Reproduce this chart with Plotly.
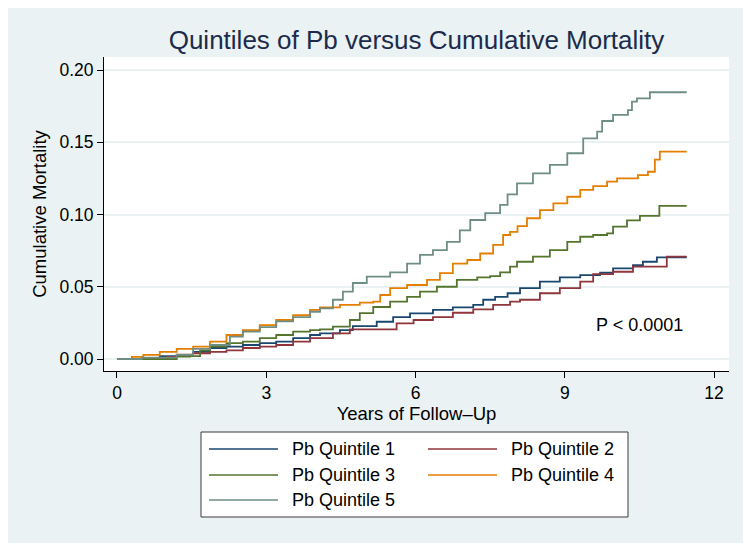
import plotly.graph_objects as go

# Kaplan-Meier style cumulative mortality by Pb quintile
t_q1 = [0, 0.86, 1.53, 1.87, 2.2, 2.53, 2.87, 3.2, 3.54, 3.88, 4.08, 4.48, 4.74, 5.22, 5.55, 5.89,
        6.35, 6.75, 7.16, 7.36, 7.6, 7.85, 8.1, 8.5, 8.9, 9.31, 9.71, 9.97, 10.37, 10.57, 10.85, 11.45]
m_q1 = [0, 0.002, 0.005, 0.0076, 0.0085, 0.0097, 0.011, 0.012, 0.0145, 0.0166, 0.0178, 0.020, 0.0228,
        0.0258, 0.029, 0.0316, 0.034, 0.0358, 0.0374, 0.041, 0.043, 0.0455, 0.049, 0.0535, 0.0565, 0.058,
        0.0597, 0.0627, 0.065, 0.0673, 0.0703, 0.0703]

t_q2 = [0, 1.0, 1.2, 1.53, 1.87, 2.2, 2.53, 2.87, 3.2, 3.54, 3.88, 4.34, 4.68, 5.62, 5.96, 6.35, 6.75,
        7.16, 7.56, 7.9, 8.1, 8.5, 8.9, 9.31, 9.57, 9.97, 10.37, 11.05, 11.45]
m_q2 = [0, 0.0015, 0.003, 0.004, 0.005, 0.006, 0.0076, 0.0085, 0.0097, 0.012, 0.0145, 0.0178, 0.0205,
        0.0247, 0.027, 0.029, 0.032, 0.0344, 0.0374, 0.0397, 0.041, 0.0455, 0.049, 0.0535, 0.0588, 0.0604,
        0.0639, 0.0708, 0.0708]

t_q3 = [0, 1.2, 1.47, 1.67, 1.87, 2.2, 2.53, 2.87, 3.2, 3.54, 3.88, 4.08, 4.34, 4.68, 4.88, 5.15, 5.49,
        5.83, 6.09, 6.43, 6.83, 7.24, 7.5, 7.7, 7.9, 8.04, 8.36, 8.7, 9.05, 9.31, 9.57, 9.85, 9.97, 10.25,
        10.51, 10.9, 11.45]
m_q3 = [0, 0.0016, 0.002, 0.006, 0.0085, 0.011, 0.012, 0.0145, 0.0166, 0.019, 0.020, 0.0205, 0.0224,
        0.027, 0.0318, 0.036, 0.0397, 0.043, 0.0466, 0.050, 0.0547, 0.0565, 0.0574, 0.060, 0.064, 0.0673,
        0.0708, 0.0754, 0.081, 0.0846, 0.0858, 0.087, 0.0916, 0.096, 0.099, 0.106, 0.106]

t_q4 = [0, 0.3, 0.53, 0.86, 1.2, 1.53, 1.87, 2.2, 2.53, 2.87, 3.2, 3.54, 3.88, 4.08, 4.48, 4.88, 5.15,
        5.29, 5.49, 5.83, 6.23, 6.49, 6.75, 7.04, 7.3, 7.56, 7.76, 7.9, 8.05, 8.24, 8.5, 8.77, 9.05, 9.31,
        9.57, 9.85, 10.05, 10.47, 10.67, 10.81, 10.91, 11.45]
m_q4 = [0, 0.0015, 0.0028, 0.005, 0.007, 0.0085, 0.012, 0.0166, 0.020, 0.0235, 0.027, 0.0304, 0.034,
        0.0358, 0.0374, 0.039, 0.0397, 0.0443, 0.049, 0.0512, 0.0547, 0.0595, 0.066, 0.0685, 0.073, 0.079,
        0.0858, 0.088, 0.092, 0.0974, 0.103, 0.1077, 0.1123, 0.117, 0.1197, 0.1227, 0.125, 0.1273, 0.1296,
        0.138, 0.1435, 0.1435]

t_q5 = [0, 0.5, 1.2, 1.53, 1.87, 2.27, 2.53, 2.87, 3.2, 3.54, 3.88, 4.08, 4.34, 4.54, 4.74, 5.02, 5.49,
        5.83, 6.09, 6.35, 6.63, 6.89, 7.1, 7.4, 7.7, 7.85, 8.04, 8.36, 8.7, 9.05, 9.37, 9.65, 9.75, 9.97,
        10.27, 10.35, 10.45, 10.71, 11.45]
m_q5 = [0, 0.001, 0.0028, 0.007, 0.0097, 0.0155, 0.019, 0.022, 0.026, 0.029, 0.0327, 0.035, 0.041,
        0.0466, 0.0526, 0.057, 0.060, 0.066, 0.072, 0.0754, 0.081, 0.089, 0.0962, 0.101, 0.1066, 0.114,
        0.1216, 0.1285, 0.1343, 0.1424, 0.1527, 0.1573, 0.1647, 0.1689, 0.1723, 0.1781, 0.1804, 0.1846,
        0.1846]

names = ["Pb Quintile 1", "Pb Quintile 2", "Pb Quintile 3", "Pb Quintile 4", "Pb Quintile 5"]
colors = ["#1A476F", "#90353B", "#55752F", "#E37E00", "#6E8E84"]
x_ticks = [0, 3, 6, 9, 12]
y_ticks = [0, 0.05, 0.10, 0.15, 0.20]

series = [(t_q1, m_q1), (t_q2, m_q2), (t_q3, m_q3), (t_q4, m_q4), (t_q5, m_q5)]

FONT = "Liberation Sans, Arial, sans-serif"
W, H = 751, 550
OFF = 8  # the page body adds an 8px margin, so work in page pixels and shift back
# plot area in page pixels
P_L, P_R, P_T, P_B = 104, 729, 57, 371
L, T = P_L - OFF, P_T - OFF
R, B = W - (P_R - OFF), H - (P_B - OFF)
PW, PH = P_R - P_L, P_B - P_T


def px(x):
    return (x - P_L) / PW


def py(y):
    return (P_B - y) / PH


fig = go.Figure()
for (t, m), name, c in zip(series, names, colors):
    fig.add_trace(go.Scatter(x=t, y=m, mode="lines", name=name, line=dict(color=c, width=1.8, shape="hv"),
                             showlegend=False))

shapes = [
    # light outer region and white plot region
    dict(type="rect", xref="paper", yref="paper", x0=px(7), x1=px(745), y0=py(543), y1=py(7),
         fillcolor="#EAF2F3", line=dict(width=0), layer="below"),
    dict(type="rect", xref="paper", yref="paper", x0=0, x1=1, y0=0, y1=1,
         fillcolor="white", line=dict(width=0), layer="below"),
    # legend box
    dict(type="rect", xref="paper", yref="paper", x0=px(201), x1=px(628), y0=py(517), y1=py(432),
         fillcolor="white", line=dict(color="#3A3A3A", width=1)),
]
annotations = [
    dict(x=10.5, y=0.0235, xref="x", yref="y", text="P < 0.0001", showarrow=False,
         font=dict(family=FONT, size=18, color="black")),
]

# manual two-column legend
cols = [(209, 278, 290), (428, 497, 509)]
rows = [449, 475, 500]
for i, (name, c) in enumerate(zip(names, colors)):
    x0, x1, xt = cols[i % 2]
    yy = rows[i // 2]
    shapes.append(dict(type="line", xref="paper", yref="paper", x0=px(x0), x1=px(x1), y0=py(yy), y1=py(yy),
                       line=dict(color=c, width=1.6)))
    annotations.append(dict(x=px(xt), y=py(yy), xref="paper", yref="paper", text=name, showarrow=False,
                            xanchor="left", yanchor="middle",
                            font=dict(family=FONT, size=18, color="black")))

fig.update_layout(
    width=W, height=H,
    margin=dict(l=L, r=R, t=T, b=B, autoexpand=False),
    paper_bgcolor="white",
    plot_bgcolor="white",
    font=dict(family=FONT, size=17.5, color="black"),
    title=dict(text="Quintiles of Pb versus Cumulative Mortality", x=0.5, xref="paper",
               y=1 - (40 - OFF) / H, yanchor="middle", font=dict(family=FONT, size=26, color="#1C2B4B")),
    shapes=shapes,
    annotations=annotations,
    showlegend=False,
)
fig.update_xaxes(range=[-0.261, 12.30], tickvals=x_ticks, ticks="outside", ticklen=6, tickcolor="black",
                 showline=True, linecolor="black", linewidth=1, showgrid=False, zeroline=False,
                 tickfont=dict(size=17.5), title=dict(text="Years of Follow\u2013Up", standoff=3,
                                                       font=dict(size=18.5)))
fig.update_yaxes(range=[-0.0083, 0.209], tickvals=y_ticks, tickformat=".2f", ticks="outside", ticklen=6,
                 tickcolor="black", showline=True, linecolor="black", linewidth=1, showgrid=True,
                 gridcolor="#EAF2F3", gridwidth=1.5, zeroline=False, tickfont=dict(size=17.5),
                 title=dict(text="Cumulative Mortality", standoff=7, font=dict(size=18.5)))

fig.write_html("out.html")
